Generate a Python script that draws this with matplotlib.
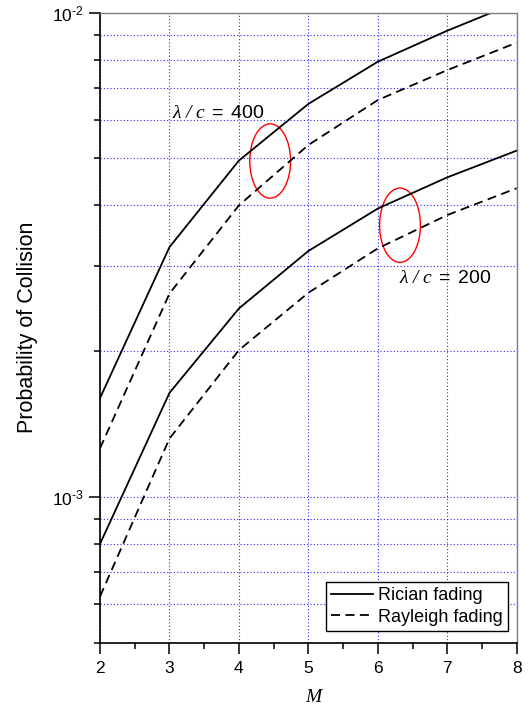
"""Collision probability versus M for Rician and Rayleigh fading."""

import math

import matplotlib

matplotlib.use("Agg")
import matplotlib.pyplot as plt
from matplotlib.patches import Ellipse
from matplotlib.ticker import FixedLocator, FuncFormatter, LogLocator, MultipleLocator

plt.rcParams["font.family"] = ["Liberation Sans", "DejaVu Sans"]
plt.rcParams["mathtext.fontset"] = "custom"
plt.rcParams["mathtext.it"] = "Liberation Serif:italic"
plt.rcParams["mathtext.rm"] = "Liberation Serif:italic"
plt.rcParams["mathtext.sf"] = "Liberation Sans"

# values
M_VALUES = [2, 3, 4, 5, 6, 7, 8]
RICIAN_400 = [1.60e-3, 3.28e-3, 4.95e-3, 6.48e-3, 7.92e-3, 9.18e-3, 1.05e-2]
RAYLEIGH_400 = [1.26e-3, 2.63e-3, 4.00e-3, 5.33e-3, 6.60e-3, 7.61e-3, 8.67e-3]
RICIAN_200 = [8.0e-4, 1.64e-3, 2.45e-3, 3.22e-3, 3.94e-3, 4.57e-3, 5.19e-3]
RAYLEIGH_200 = [6.23e-4, 1.32e-3, 2.01e-3, 2.64e-3, 3.26e-3, 3.82e-3, 4.34e-3]

# annotation anchors (data coordinates)
LABELS = [r"$\lambda\ /\ c\ \mathsf{=\ 400}$", r"$\lambda\ /\ c\ \mathsf{=\ 200}$"]
LABEL_POS = [(3.04, 6.06e-3), (6.30, 2.76e-3)]
ELLIPSE_CENTERS = [(4.45, 4.94e-3), (6.32, 3.64e-3)]

GRID_BLUE = "#2a2aff"
DASH = (5, 3)


def decade_label(value, _pos):
    # hyphen instead of the wide math minus, like the original tick labels
    return "$\\mathsf{10^{\u2010%d}}$" % abs(round(math.log10(value)))


fig = plt.figure(figsize=(5.32, 7.09), dpi=100)
ax = fig.add_axes([0.188, 0.0935, 0.7832, 0.8886])

ax.plot(M_VALUES, RICIAN_400, color="black", lw=1.3, label="Rician fading")
ax.plot(M_VALUES, RAYLEIGH_400, color="black", lw=1.3, dashes=DASH, label="Rayleigh fading")
ax.plot(M_VALUES, RICIAN_200, color="black", lw=1.3)
ax.plot(M_VALUES, RAYLEIGH_200, color="black", lw=1.3, dashes=DASH)

ax.set_yscale("log")
ax.set_xlim(2, 8)
ax.set_ylim(5e-4, 1e-2)

ax.xaxis.set_major_locator(MultipleLocator(1))
ax.xaxis.set_minor_locator(MultipleLocator(0.5))
ax.yaxis.set_major_locator(FixedLocator([1e-3, 1e-2]))
ax.yaxis.set_minor_locator(LogLocator(base=10, subs=range(2, 10)))
ax.yaxis.set_major_formatter(FuncFormatter(decade_label))
ax.yaxis.set_minor_formatter(FuncFormatter(lambda v, _: ""))

ax.tick_params(which="major", direction="out", length=8, width=1.1, labelsize=12.5, colors="black")
ax.tick_params(which="minor", direction="out", length=4, width=1.1)
ax.tick_params(axis="x", pad=5)

ax.grid(which="major", axis="x", color=GRID_BLUE, lw=0.8, linestyle=(0, (1, 2)))
ax.grid(which="both", axis="y", color=GRID_BLUE, lw=0.8, linestyle=(0, (1, 2)))

for side in ("left", "bottom"):
    ax.spines[side].set_linewidth(1.2)
    ax.spines[side].set_color("black")
for side in ("top", "right"):
    ax.spines[side].set_linewidth(1.0)
    ax.spines[side].set_color("#7f7f7f")

ax.set_ylabel("Probability of Collision", fontsize=15.5)
ax.yaxis.set_label_coords(-0.15, 0.5)
ax.set_xlabel(r"$M$", fontsize=14)
ax.xaxis.set_label_coords(0.516, -0.073)

for text, (x, y) in zip(LABELS, LABEL_POS):
    ax.text(x, y, text, fontsize=14, ha="left", va="baseline")

# ellipses sized in axes fraction so they stay round on the log scale
to_axes = ax.transAxes.inverted()
for cx, cy in ELLIPSE_CENTERS:
    ax_x, ax_y = to_axes.transform(ax.transData.transform((cx, cy)))
    ax.add_patch(Ellipse((ax_x, ax_y), 0.098, 0.118, transform=ax.transAxes,
                         fill=False, edgecolor="red", lw=1.0))

leg = ax.legend(loc="lower right", bbox_to_anchor=(0.98, 0.0186), borderaxespad=0,
                fontsize=13, fancybox=False, framealpha=1, edgecolor="black",
                handlelength=2.3, handletextpad=0.3, labelspacing=0.25, borderpad=0.3)
leg.get_frame().set_linewidth(1.0)

fig.savefig("out.png", dpi=100)
